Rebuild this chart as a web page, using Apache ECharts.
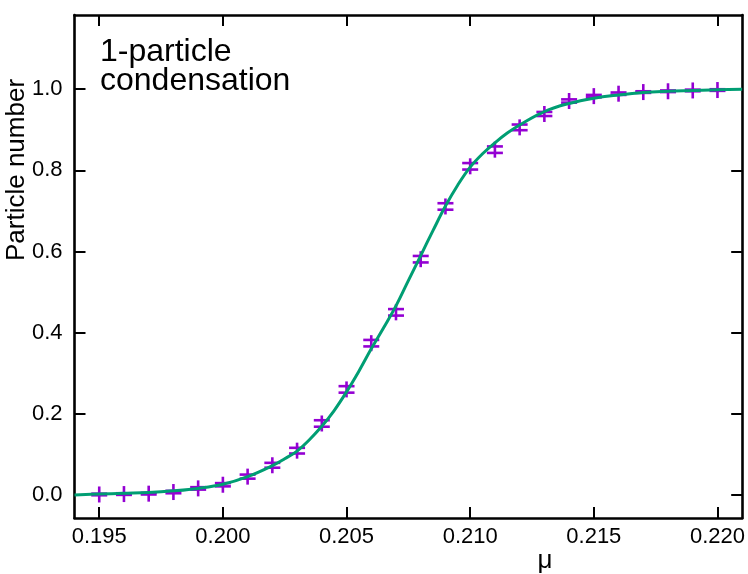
<!DOCTYPE html>
<html>
<head>
<meta charset="utf-8">
<script src="https://cdn.jsdelivr.net/npm/echarts@6/dist/echarts.min.js"></script>
<style>
html,body{margin:0;padding:0;background:#fff;}
#chart{width:748px;height:574px;}
</style>
</head>
<body>
<div id="chart"></div>
<script>
const muValues = [0.195,0.196,0.197,0.198,0.199,0.200,0.201,0.202,0.203,0.204,0.205,0.206,0.207,0.208,0.209,0.210,0.211,0.212,0.213,0.214,0.215,0.216,0.217,0.218,0.219,0.220];
const particleNumber = [0.001,0.002,0.003,0.007,0.016,0.025,0.045,0.073,0.109,0.176,0.260,0.374,0.450,0.581,0.711,0.810,0.851,0.906,0.939,0.971,0.983,0.989,0.993,0.995,0.997,0.998];
const errorValues = [0.002,0.002,0.002,0.003,0.003,0.004,0.005,0.006,0.007,0.008,0.008,0.008,0.008,0.008,0.008,0.008,0.008,0.007,0.005,0.004,0.003,0.003,0.002,0.002,0.002,0.002];
const fitMu = [0.194,0.195,0.196,0.197,0.198,0.199,0.200,0.201,0.202,0.2025,0.203,0.2035,0.204,0.2045,0.205,0.2055,0.206,0.2065,0.207,0.2075,0.208,0.2085,0.209,0.2095,0.210,0.2105,0.211,0.2115,0.212,0.213,0.214,0.215,0.216,0.217,0.218,0.219,0.220,0.221];
const fitValues = [0.000,0.002,0.004,0.006,0.010,0.016,0.026,0.045,0.072,0.089,0.108,0.136,0.169,0.208,0.254,0.305,0.360,0.412,0.466,0.528,0.590,0.652,0.712,0.764,0.808,0.841,0.868,0.892,0.912,0.945,0.965,0.978,0.986,0.992,0.995,0.997,0.999,1.000];
const xTicks = [0.195,0.200,0.205,0.210,0.215,0.220];
const yTicks = [0.0,0.2,0.4,0.6,0.8,1.0];
const xMin = 0.194, xMax = 0.221, yMin = -0.057, yMax = 1.183;

const chart = echarts.init(document.getElementById('chart'));
const FONT = '"Liberation Sans", Arial, Helvetica, sans-serif';
const PURPLE = '#9400D3';
const GREEN = '#009E73';

const pointData = muValues.map((m, i) => [m, particleNumber[i], errorValues[i]]);
const fitData = fitMu.map((m, i) => [m, fitValues[i]]);

function frameAxis(extra) {
  return Object.assign({
    type: 'value',
    axisLine: {show: true, onZero: false, lineStyle: {color: '#000', width: 2.6}},
    axisTick: {show: true, inside: true, length: 11, lineStyle: {color: '#000', width: 2}},
    splitLine: {show: false},
    axisLabel: {show: false}
  }, extra);
}

chart.setOption({
  animation: false,
  backgroundColor: '#fff',
  grid: {left: 74.5, right: 2.5, top: 15, bottom: 56, containLabel: false},
  xAxis: [
    frameAxis({
      min: xMin, max: xMax, position: 'bottom',
      axisTick: {show: true, inside: true, length: 11, customValues: xTicks, lineStyle: {color: '#000', width: 2}},
      axisLabel: {show: true, customValues: xTicks, margin: 8, color: '#000', fontSize: 22, fontFamily: FONT,
        formatter: v => v.toFixed(3)}
    }),
    frameAxis({
      min: xMin, max: xMax, position: 'top',
      axisTick: {show: true, inside: true, length: 11, customValues: xTicks, lineStyle: {color: '#000', width: 2}}
    })
  ],
  yAxis: [
    frameAxis({
      min: yMin, max: yMax, position: 'left',
      axisTick: {show: true, inside: true, length: 11, customValues: yTicks, lineStyle: {color: '#000', width: 2}},
      axisLabel: {show: true, customValues: yTicks, margin: 12, color: '#000', fontSize: 22, fontFamily: FONT,
        formatter: v => v.toFixed(1)}
    }),
    frameAxis({
      min: yMin, max: yMax, position: 'right',
      axisTick: {show: true, inside: true, length: 11, customValues: yTicks, lineStyle: {color: '#000', width: 2}}
    })
  ],
  series: [
    {
      type: 'custom',
      xAxisIndex: 0, yAxisIndex: 0,
      z: 2,
      data: pointData,
      renderItem: function (params, api) {
        const x = api.value(0), y = api.value(1), e = api.value(2);
        const c = api.coord([x, y]);
        const top = api.coord([x, y + e]);
        const bot = api.coord([x, y - e]);
        const hw = 8;
        const style = {stroke: PURPLE, lineWidth: 2.6, fill: null};
        return {
          type: 'group',
          children: [
            {type: 'line', shape: {x1: c[0], y1: c[1] - 8, x2: c[0], y2: c[1] + 8}, style: style},
            {type: 'line', shape: {x1: c[0] - hw, y1: top[1], x2: c[0] + hw, y2: top[1]}, style: style},
            {type: 'line', shape: {x1: c[0] - hw, y1: bot[1], x2: c[0] + hw, y2: bot[1]}, style: style}
          ]
        };
      }
    },
    {
      type: 'line',
      xAxisIndex: 0, yAxisIndex: 0,
      z: 3,
      data: fitData,
      smooth: 0.4,
      showSymbol: false,
      symbol: 'none',
      lineStyle: {color: GREEN, width: 3}
    }
  ],
  graphic: [
    {
      type: 'text', left: 100, top: 36, z: 10,
      style: {text: '1-particle\ncondensation', font: '32px ' + FONT, fill: '#000', lineHeight: 29}
    },
    {
      type: 'text', x: 17, y: 170, rotation: Math.PI / 2, z: 10,
      style: {text: 'Particle number', font: '26px ' + FONT, fill: '#000', align: 'center', verticalAlign: 'middle'}
    },
    {
      type: 'text', x: 545, y: 561, z: 10,
      style: {text: 'μ', font: '26px ' + FONT, fill: '#000', align: 'center', verticalAlign: 'middle'}
    }
  ]
});
</script>
</body>
</html>
